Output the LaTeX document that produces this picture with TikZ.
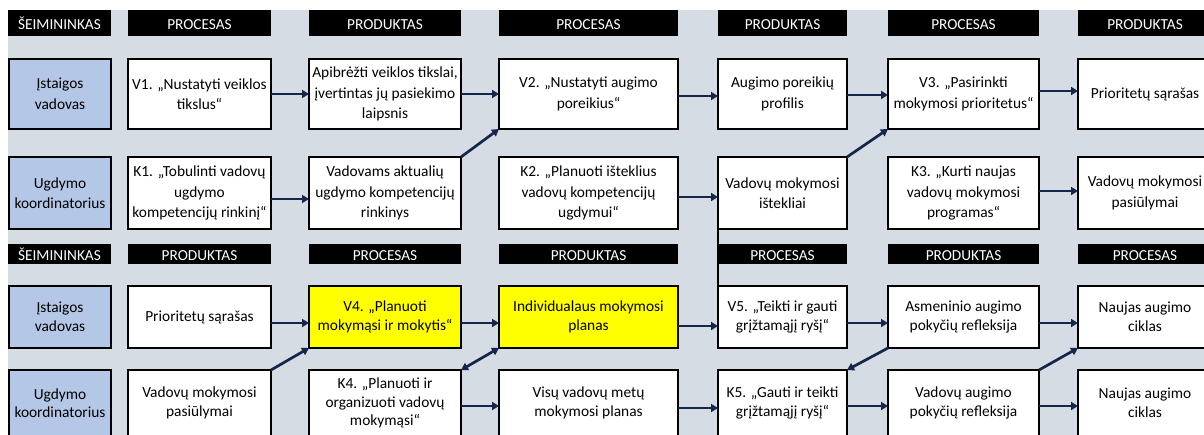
\documentclass[tikz,border=0pt]{standalone}
\usepackage{fontspec}
\setmainfont{Carlito}
\usetikzlibrary{arrows.meta,calc}

\definecolor{bggray}{HTML}{D6DCE4}
\definecolor{ownerblue}{HTML}{B4C7E7}
\definecolor{hlyellow}{HTML}{FFFF00}
\definecolor{arrownavy}{HTML}{16254A}

\tikzset{
  cellbox/.style={draw=black, line width=1.4pt, fill=white, inner sep=0pt, outer sep=0pt},
  ownerbox/.style={cellbox, fill=ownerblue},
  hlbox/.style={cellbox, fill=hlyellow},
  hdrbox/.style={fill=black, text=white, inner sep=0pt, outer sep=0pt,
    text height=13pt, text depth=0pt, font=\fontsize{15.3}{18}\selectfont},
  txttop/.style={align=center, inner sep=0pt, font=\fontsize{15.4}{20.5}\selectfont},
  txtbot/.style={align=center, inner sep=0pt, font=\fontsize{15.4}{18.5}\selectfont},
  txtlow/.style={txtbot, yshift=2pt},
  flow/.style={draw=arrownavy, line width=2.7pt, -{Triangle[length=7pt,width=8pt]}},
  flowboth/.style={draw=arrownavy, line width=2.7pt,
    {Triangle[length=7pt,width=8pt]}-{Triangle[length=7pt,width=8pt]}},
}

% box from (x1,y1) to (x2,y2), y counted downwards
\newcommand\cell[8]{%
  \pgfmathsetmacro\cellW{#6-#4}\pgfmathsetmacro\cellH{#7-#5}%
  \pgfmathsetmacro\cellX{(#4+#6)/2}\pgfmathsetmacro\cellY{(#5+#7)/2}%
  \node[#2, minimum width=\cellW pt, minimum height=\cellH pt] (#1) at (\cellX,\cellY) {};
  \node[#3] (#1-t) at (#1.center) {#8};}

\newcommand\hdr[6]{%
  \pgfmathsetmacro\cellW{#4-#2}\pgfmathsetmacro\cellH{#5-#3}%
  \pgfmathsetmacro\cellX{(#2+#4)/2}\pgfmathsetmacro\cellY{(#3+#5)/2}%
  \node[hdrbox, minimum width=\cellW pt, minimum height=\cellH pt] (#1) at (\cellX,\cellY) {#6};}

\begin{document}
\begin{tikzpicture}[x=1pt,y=-1pt]
\clip (0,0) rectangle (1204,434);
\fill[white] (0,0) rectangle (1204,434);
\fill[bggray] (8,10) rectangle (1210,440);

% ---------- upper table ----------
\hdr{h1a}{8}{10}{111}{36}{ŠEIMININKAS}
\hdr{h1b}{128}{10}{271}{36}{PROCESAS}
\hdr{h1c}{309}{10}{461}{36}{PRODUKTAS}
\hdr{h1d}{499}{10}{678}{36}{PROCESAS}
\hdr{h1e}{718}{10}{847}{36}{PRODUKTAS}
\hdr{h1f}{888}{10}{1039}{36}{PROCESAS}
\hdr{h1g}{1078}{10}{1212}{36}{PRODUKTAS}

\cell{o1}{ownerbox}{txttop}{9}{59}{111}{129}{Įstaigos\\vadovas}
\cell{v1}{cellbox}{txttop}{128}{59}{271}{129}{V1. „Nustatyti veiklos\\tikslus“}
\cell{a1}{cellbox}{txttop}{309}{59}{461}{129}{Apibrėžti veiklos tikslai,\\įvertintas jų pasiekimo\\laipsnis}
\cell{v2}{cellbox}{txttop}{499}{59}{678}{129}{V2. „Nustatyti augimo\\poreikius“}
\cell{ap}{cellbox}{txttop}{718}{59}{847}{129}{Augimo poreikių\\profilis}
\cell{v3}{cellbox}{txttop}{888}{59}{1039}{129}{V3. „Pasirinkti\\mokymosi prioritetus“}
\cell{pr1}{cellbox}{txttop}{1078}{59}{1212}{129}{Prioritetų sąrašas}

\cell{o2}{ownerbox}{txttop}{9}{157}{111}{229}{Ugdymo\\koordinatorius}
\cell{k1}{cellbox}{txttop}{128}{157}{271}{229}{K1. „Tobulinti vadovų\\ugdymo\\kompetencijų rinkinį“}
\cell{vk}{cellbox}{txttop}{309}{157}{461}{229}{Vadovams aktualių\\ugdymo kompetencijų\\rinkinys}
\cell{k2}{cellbox}{txttop}{499}{157}{678}{229}{K2. „Planuoti išteklius\\vadovų kompetencijų\\ugdymui“}
\cell{mi}{cellbox}{txttop}{718}{157}{847}{229}{Vadovų mokymosi\\ištekliai}
\cell{k3}{cellbox}{txttop}{888}{157}{1039}{229}{K3. „Kurti naujas\\vadovų mokymosi\\programas“}
\cell{mp}{cellbox}{txttop}{1078}{157}{1212}{229}{Vadovų mokymosi\\pasiūlymai}

% ---------- lower table ----------
\hdr{h2a}{8}{244}{111}{264}{ŠEIMININKAS}
\hdr{h2b}{128}{244}{271}{264}{PRODUKTAS}
\hdr{h2c}{309}{244}{461}{264}{PROCESAS}
\hdr{h2d}{499}{244}{678}{264}{PRODUKTAS}
\hdr{h2e}{718}{244}{847}{264}{PROCESAS}
\hdr{h2f}{888}{244}{1039}{264}{PRODUKTAS}
\hdr{h2g}{1078}{244}{1212}{264}{PROCESAS}

\cell{o3}{ownerbox}{txtbot}{9}{286}{111}{348}{Įstaigos\\vadovas}
\cell{pr3}{cellbox}{txtbot}{128}{286}{271}{348}{Prioritetų sąrašas}
\cell{v4}{hlbox}{txtbot}{309}{286}{461}{348}{V4. „Planuoti\\mokymąsi ir mokytis“}
\cell{ip}{hlbox}{txtbot}{499}{286}{678}{348}{Individualaus mokymosi\\planas}
\cell{v5}{cellbox}{txtbot}{718}{286}{847}{348}{V5. „Teikti ir gauti\\grįžtamąjį ryšį“}
\cell{ar}{cellbox}{txtbot}{888}{286}{1039}{348}{Asmeninio augimo\\pokyčių refleksija}
\cell{nc3}{cellbox}{txtbot}{1078}{286}{1212}{348}{Naujas augimo\\ciklas}

\cell{o4}{ownerbox}{txtlow}{9}{370}{111}{440}{Ugdymo\\koordinatorius}
\cell{mp4}{cellbox}{txtlow}{128}{370}{271}{440}{Vadovų mokymosi\\pasiūlymai}
\cell{k4}{cellbox}{txtlow}{309}{370}{461}{440}{K4. „Planuoti ir\\organizuoti vadovų\\mokymąsi“}
\cell{vp}{cellbox}{txtlow}{499}{370}{678}{440}{Visų vadovų metų\\mokymosi planas}
\cell{k5}{cellbox}{txtlow}{718}{370}{847}{440}{K5. „Gauti ir teikti\\grįžtamąjį ryšį“}
\cell{vr}{cellbox}{txtlow}{888}{370}{1039}{440}{Vadovų augimo\\pokyčių refleksija}
\cell{nc4}{cellbox}{txtlow}{1078}{370}{1212}{440}{Naujas augimo\\ciklas}

% left edge of the column running on between the two tables
\draw[line width=1.4pt] (mi.south west) -- (v5.north west);

% ---------- connectors, upper table ----------
\draw[flow] ($(v1.east)+(0,0)$) -- ($(a1.west)+(0,0)$);
\draw[flow] ($(a1.east)+(0,0)$) -- ($(v2.west)+(0,0)$);
\draw[flow] ($(v2.east)+(0,2)$) -- ($(ap.west)+(0,2)$);
\draw[flow] ($(ap.east)+(0,1)$) -- ($(v3.west)+(0,1)$);
\draw[flow] ($(v3.east)+(0,-3)$) -- ($(pr1.west)+(0,-3)$);
\draw[flow] ($(k1.east)+(0,6)$) -- ($(vk.west)+(0,6)$);
\draw[flow] ($(k2.east)+(0,4)$) -- ($(mi.west)+(0,4)$);
\draw[flow] ($(k3.east)+(0,-2)$) -- ($(mp.west)+(0,-2)$);
\draw[flow] (vk.north east) -- (v2.south west);
\draw[flow] (mi.north east) -- (v3.south west);

% ---------- connectors, lower table ----------
\draw[flow] ($(pr3.east)+(0,6)$) -- ($(v4.west)+(0,6)$);
\draw[flow] ($(v4.east)+(0,6)$) -- ($(ip.west)+(0,6)$);
\draw[flow] ($(ip.east)+(0,9)$) -- ($(v5.west)+(0,9)$);
\draw[flow] ($(v5.east)+(0,6)$) -- ($(ar.west)+(0,6)$);
\draw[flow] ($(ar.east)+(0,6)$) -- ($(nc3.west)+(0,6)$);
\draw[flow] ($(k4.east)+(0,1)$) -- ($(vp.west)+(0,1)$);
\draw[flow] ($(vp.east)+(0,3)$) -- ($(k5.west)+(0,3)$);
\draw[flow] ($(k5.east)+(0,1)$) -- ($(vr.west)+(0,1)$);
\draw[flow] ($(vr.east)+(0,1)$) -- ($(nc4.west)+(0,1)$);
\draw[flow] (mp4.north east) -- (v4.south west);
\draw[flowboth] (k4.north east) -- (ip.south west);
\draw[flow] (ar.south west) -- (k5.north east);
\draw[flow] (vr.north east) -- (nc3.south west);
\end{tikzpicture}
\end{document}
